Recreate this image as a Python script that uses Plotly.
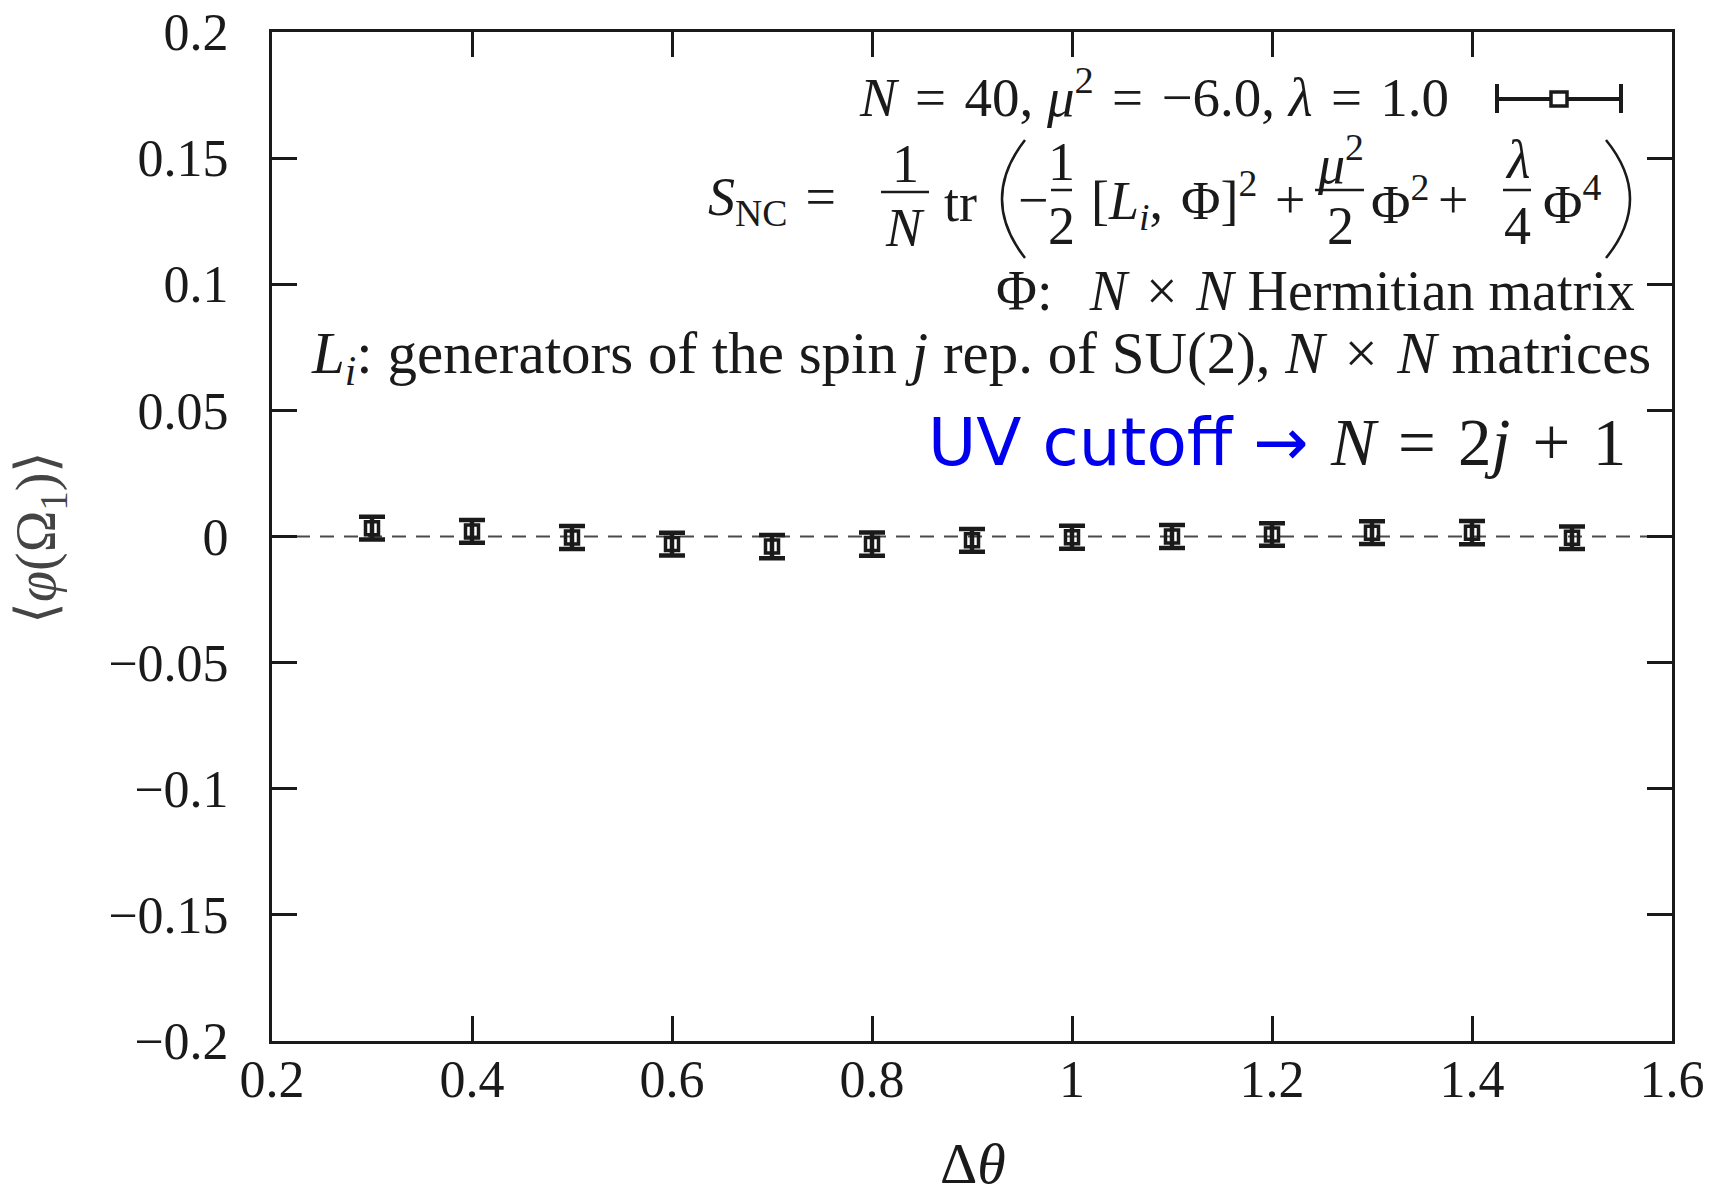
import plotly.graph_objects as go

# ---- data ----
dtheta = [0.3, 0.4, 0.5, 0.6, 0.7, 0.8, 0.9, 1.0, 1.1, 1.2, 1.3, 1.4, 1.5]
phi_mean = [0.0033, 0.0020, -0.0004, -0.0030, -0.0040, -0.0030, -0.0015,
            -0.0003, 0.0000, 0.0008, 0.0015, 0.0015, -0.0005]
phi_err = [0.0045, 0.0045, 0.0046, 0.0045, 0.0046, 0.0046, 0.0045,
           0.0046, 0.0046, 0.0045, 0.0045, 0.0046, 0.0045]
x_ticks = [0.2, 0.4, 0.6, 0.8, 1.0, 1.2, 1.4, 1.6]
x_ticklabels = ["0.2", "0.4", "0.6", "0.8", "1", "1.2", "1.4", "1.6"]
y_ticks = [-0.2, -0.15, -0.1, -0.05, 0, 0.05, 0.1, 0.15, 0.2]
y_ticklabels = ["\u22120.2", "\u22120.15", "\u22120.1", "\u22120.05", "0",
                "0.05", "0.1", "0.15", "0.2"]

W, H = 1717, 1192
L, R, T, B = 272, 45, 32, 151
PX0, PX1, PY0, PY1 = L, W - R, T, H - B
SERIF = "Liberation Serif"
FS = 52
INK = "#1a1a1a"
SP = "\u2004"  # math-like spacing around operators


def px(x):
    return (x - PX0) / (PX1 - PX0)


def py(y):
    return (PY1 - y) / (PY1 - PY0)


fig = go.Figure()

fig.add_trace(go.Scatter(
    x=dtheta, y=phi_mean, mode="markers",
    marker=dict(symbol="square-open", size=13, color=INK,
                line=dict(width=3.5, color=INK)),
    error_y=dict(type="data", array=phi_err, visible=True,
                 color=INK, thickness=4.5, width=13),
    showlegend=False,
))

ann = []
shapes = []

# dashed zero line
shapes.append(dict(type="line", xref="paper", yref="y", x0=0, x1=1, y0=0, y1=0,
                   line=dict(color="#4a4a4a", width=2.2, dash="14px,10px"), layer="below"))


def txt(x, y, s, size=FS, xanchor="center", color=INK, family=SERIF):
    ann.append(dict(x=px(x), y=py(y), xref="paper", yref="paper", text=s,
                    showarrow=False, xanchor=xanchor, yanchor="middle",
                    font=dict(size=size, color=color, family=family)))


def hbar(x0, x1, y, w=2.5):
    shapes.append(dict(type="line", xref="paper", yref="paper",
                       x0=px(x0), x1=px(x1), y0=py(y), y1=py(y),
                       line=dict(color=INK, width=w)))


def paren(xe, xm, y0, y1):
    cx = 2 * xm - xe
    ym = (y0 + y1) / 2
    path = (f"M {px(xe)},{py(y0)} Q {px(cx)},{py(ym)} {px(xe)},{py(y1)}")
    shapes.append(dict(type="path", xref="paper", yref="paper", path=path,
                       line=dict(color=INK, width=2.5)))


# legend entry
txt(1451, 93, f"<i>N</i>{SP}={SP}40, <i>\u03bc</i><sup>2</sup>{SP}={SP}\u22126.0, "
    f"<i>\u03bb</i>{SP}={SP}1.0", size=55, xanchor="right")
hbar(1497, 1621, 99, 4)
for xc in (1497, 1621):
    shapes.append(dict(type="line", xref="paper", yref="paper", x0=px(xc), x1=px(xc),
                       y0=py(84), y1=py(113), line=dict(color=INK, width=4)))
shapes.append(dict(type="rect", xref="paper", yref="paper", x0=px(1551), x1=px(1567),
                   y0=py(92), y1=py(106), fillcolor="white",
                   line=dict(color=INK, width=3.5)))

# action formula
EQ = 54
txt(838, 200, f"<i>S</i><sub>NC</sub>{SP}=", size=EQ, xanchor="right")
txt(905, 164, "1", size=EQ)
hbar(881, 929, 192)
txt(905, 228, "<i>N</i>", size=EQ)
txt(960, 203, "tr", size=EQ)
paren(1025, 1002, 140, 258)
txt(1033, 200, "\u2212", size=EQ)
txt(1061, 162, "1", size=EQ)
hbar(1051, 1072, 190)
txt(1061, 226, "2", size=EQ)
txt(1174, 200, f"[<i>L<sub>i</sub></i>,{SP}\u03a6]<sup>2</sup>", size=EQ)
txt(1290, 200, "+", size=EQ)
txt(1340, 160, "<i>\u03bc</i><sup>2</sup>", size=EQ)
hbar(1315, 1364, 190)
txt(1340, 226, "2", size=EQ)
txt(1400, 200, "\u03a6<sup>2</sup>", size=EQ)
txt(1453, 200, "+", size=EQ)
txt(1517, 160, "<i>\u03bb</i>", size=EQ)
hbar(1503, 1531, 190)
txt(1517, 226, "4", size=EQ)
txt(1572, 200, "\u03a6<sup>4</sup>", size=EQ)
paren(1606, 1630, 140, 258)

txt(1637, 291, f"\u03a6:{SP}{SP}<i>N</i>{SP}\u00d7{SP}<i>N</i> Hermitian matrix",
    size=56, xanchor="right")
txt(1653, 357, f"<i>L<sub>i</sub></i>: generators of the spin <i>j</i> rep. of SU(2), "
    f"<i>N</i>{SP}\u00d7{SP}<i>N</i> matrices", size=59, xanchor="right")
txt(1628, 442, "<span style='color:#0000ee;font-family:DejaVu Sans'>UV cutoff \u2192</span>"
    f"<span style='font-size:67px'>{SP}<i>N</i>{SP}={SP}2<i>j</i>{SP}+{SP}1</span>",
    size=66, xanchor="right")

# axis titles
txt(973, 1163, "\u0394<i>\u03b8</i>", size=58)
ann.append(dict(x=px(40), y=py(537), xref="paper", yref="paper",
                text="\u27e8<i>\u03c6</i>(\u03a9<sub>1</sub>)\u27e9", showarrow=False,
                textangle=-90, xanchor="center", yanchor="middle",
                font=dict(size=56, color="#444444", family=SERIF)))

axis_common = dict(showgrid=False, zeroline=False, showline=True, linecolor=INK,
                   linewidth=3, ticks="inside", ticklen=25, automargin=False,
                   mirror="ticks", tickwidth=2.5, tickcolor=INK,
                   tickfont=dict(family=SERIF, size=FS, color=INK))

fig.update_layout(
    width=W, height=H,
    margin=dict(l=L, r=R, t=T, b=B),
    plot_bgcolor="white", paper_bgcolor="white",
    xaxis=dict(range=[0.2, 1.6], tickvals=x_ticks, ticktext=x_ticklabels,
               ticklabelstandoff=-9, **axis_common),
    yaxis=dict(range=[-0.2, 0.2], tickvals=y_ticks, ticktext=y_ticklabels,
               ticklabelstandoff=30, **axis_common),
    annotations=ann, shapes=shapes,
)

fig.write_html("out.html")
